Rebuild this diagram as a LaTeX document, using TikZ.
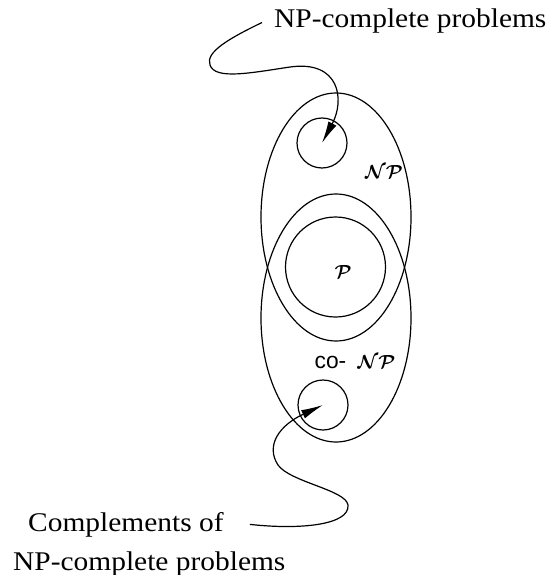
\documentclass[tikz,border=0pt]{standalone}
\usepackage{fontspec}
\setmainfont{Liberation Serif}
\setsansfont{Liberation Sans}
\usetikzlibrary{arrows.meta}
\tikzset{
  ln/.style={line width=1.2pt},
  lbl/.style={inner sep=0pt, anchor=base west, xscale=1.09, font=\fontsize{27}{32}\selectfont},
  arr/.style={ln, -{Latex[length=22pt,width=9pt]}},
  setlbl/.style={inner sep=0pt, scale=1.9, font=\boldmath},
  circ/.style={ln, draw, circle, inner sep=0pt},
}
\begin{document}
\begin{tikzpicture}[x=1pt,y=-1pt]
\useasboundingbox (0,0) rectangle (551,575);
% sets
\draw[ln] (336,217) ellipse [x radius=75, y radius=124];
\draw[ln] (336,318) ellipse [x radius=75, y radius=124];
\node[circ, minimum size=100pt] (P) at (335.5,267) {};
\node[circ, minimum size=50pt] (npc) at (322,143) {};
\node[circ, minimum size=50pt] (conpc) at (323,405) {};
% labels
\node[setlbl] (lp) at (343,272) {$\mathcal{P}$};
\node[setlbl] (lnp) at (384,172) {$\mathcal{NP}$};
\node[setlbl] (lconp) at (355,362) {{\sffamily\fontsize{12}{14}\selectfont co-}\hspace{6pt}$\mathcal{NP}$};
% texts
\node[lbl] (tnpc) at (274,28) {NP-complete problems};
\node[lbl] (tcomp) at (28,531) {Complements of};
\node[lbl] (tcomp2) at (13,570) {NP-complete problems};
% connectors
\draw[arr] ([xshift=-12pt,yshift=-1pt]tnpc.west) .. controls (230,38) and (205,52) .. (210,65)
  .. controls (215,80) and (250,73) .. (290,67)
  .. controls (340,60) and (345,100) .. (npc.center);
\draw[arr] ([xshift=26pt,yshift=0pt]tcomp.east) .. controls (300,530) and (350,525) .. (348,505)
  .. controls (346,490) and (290,482) .. (278,465)
  .. controls (265,445) and (280,425) .. (conpc.center);
\end{tikzpicture}
\end{document}
